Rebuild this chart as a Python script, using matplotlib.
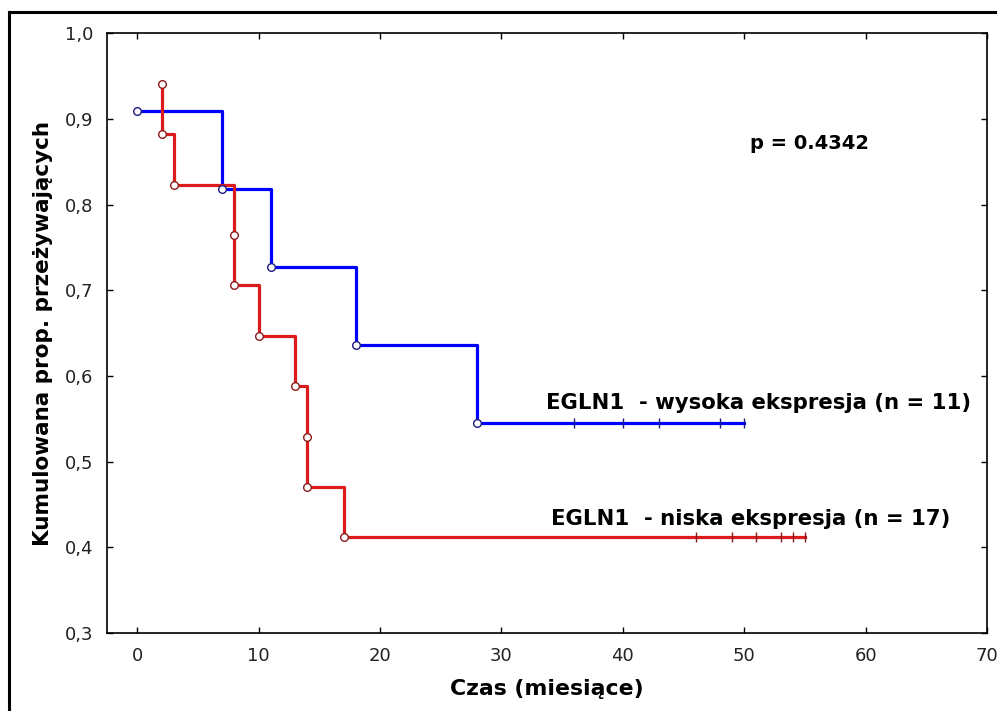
import numpy as np
import matplotlib.pyplot as plt

# Kaplan-Meier data (czas w miesiacach)
high_event_times = [0, 7, 11, 18, 28]
high_surv = [10/11, 9/11, 8/11, 7/11, 6/11]
high_censor_times = [36, 40, 43, 48, 50]

low_event_times = [2, 2, 3, 8, 8, 10, 13, 14, 14, 17]
low_surv = [16/17, 15/17, 14/17, 13/17, 12/17, 11/17, 10/17, 9/17, 8/17, 7/17]
low_censor_times = [46, 49, 51, 53, 54, 55]

x_ticks = [0, 10, 20, 30, 40, 50, 60, 70]
y_ticks = [0.3, 0.4, 0.5, 0.6, 0.7, 0.8, 0.9, 1.0]
y_tick_labels = ['0,3', '0,4', '0,5', '0,6', '0,7', '0,8', '0,9', '1,0']

high_label = 'EGLN1  - wysoka ekspresja (n = 11)'
low_label = 'EGLN1  - niska ekspresja (n = 17)'
p_text = 'p = 0.4342'

plt.rcParams['font.family'] = ['DejaVu Sans']

fig = plt.figure(figsize=(9.97, 7.11), dpi=100)
ax = fig.add_axes([0.1073, 0.1097, 0.8827, 0.8432])


def km_curve(ax, times, surv, censor, line_col, edge_col):
    # step line runs from first event to last censored time
    xs = list(times) + [censor[-1]]
    ys = list(surv) + [surv[-1]]
    ax.step(xs, ys, where='post', color=line_col, lw=2.3, zorder=2)
    ax.plot(times, surv, 'o', ms=5.5, mfc='white', mec=edge_col, mew=1.0, zorder=3)
    ax.plot(censor, [surv[-1]] * len(censor), '|', ms=7, mec=edge_col, mew=1.0, zorder=3)


km_curve(ax, high_event_times, high_surv, high_censor_times, '#0000ff', '#1a1a80')
km_curve(ax, low_event_times, low_surv, low_censor_times, '#dc1c1c', '#8a1a1a')

ax.text(33.7, 0.568, high_label, fontsize=15.3, fontweight='bold', va='center', ha='left')
ax.text(34.1, 0.433, low_label, fontsize=15.3, fontweight='bold', va='center', ha='left')
ax.text(50.5, 0.872, p_text, fontsize=14, fontweight='bold', va='center', ha='left')

ax.set_xlim(-2.5, 70)
ax.set_ylim(0.3, 1.0)
ax.set_xticks(x_ticks)
ax.set_yticks(y_ticks)
ax.set_yticklabels(y_tick_labels)
ax.tick_params(direction='in', length=4, width=1, top=True, right=True,
               labelsize=13, labelcolor='#222222', pad=10)
for s in ax.spines.values():
    s.set_linewidth(1.2)

ax.set_xlabel('Czas (miesiące)', fontsize=15.8, fontweight='bold', labelpad=10)
ax.set_ylabel('Kumulowana prop. przeżywających', fontsize=15.5, fontweight='bold', labelpad=8)

# outer frame (left and top edges visible in the crop)
fig.add_artist(plt.Line2D([0.0095, 0.0095], [0.983, 0.0], transform=fig.transFigure, color='black', lw=2.2))
fig.add_artist(plt.Line2D([0.0095, 1.0], [0.983, 0.983], transform=fig.transFigure, color='black', lw=2.2))

fig.savefig('out.png', dpi=100)
